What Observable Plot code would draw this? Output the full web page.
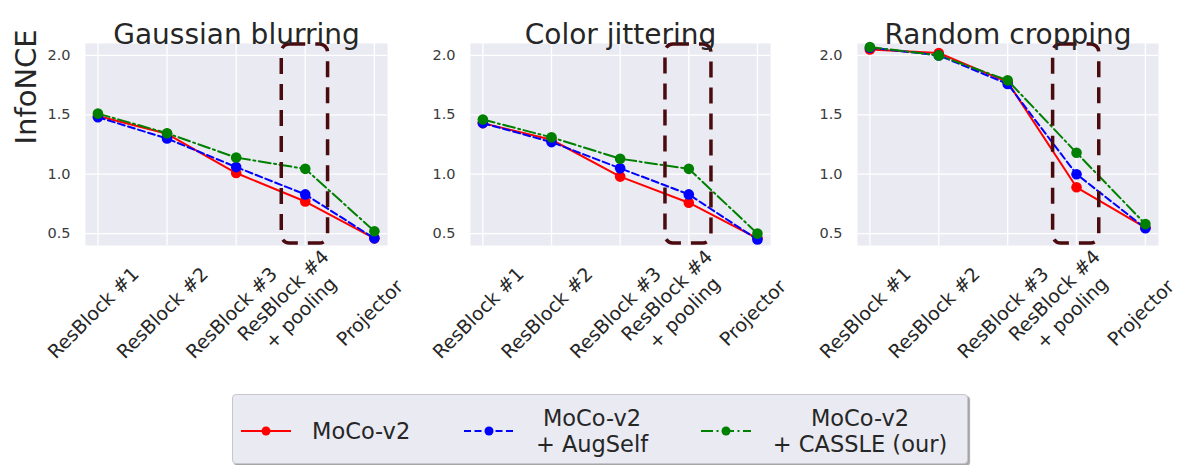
<!DOCTYPE html>
<html>
<head>
<meta charset="utf-8">
<script src="https://cdn.jsdelivr.net/npm/d3@7"></script>
<script src="https://cdn.jsdelivr.net/npm/@observablehq/plot@0.6"></script>
<style>
  html, body { margin: 0; padding: 0; background: #ffffff; }
  #root { position: relative; width: 1184px; height: 465px; overflow: hidden; font-family: "DejaVu Sans", sans-serif; }
  .panel { position: absolute; top: 0; }
  #legend {
    position: absolute; left: 232px; top: 394px; width: 734px; height: 68px;
    background: #eaeaf2; border: 1px solid #c6c6cc; border-radius: 4px;
    box-shadow: 2px 2px 1px rgba(0,0,0,0.35);
    font-family: "DejaVu Sans", sans-serif; font-size: 22.5px; color: #262626;
  }
  .lg-text { position: absolute; line-height: 26px; text-align: center; white-space: nowrap; }
  .lg-swatch { position: absolute; }
</style>
</head>
<body>
<div id="root">
  <div id="p0" class="panel" style="left:0px"></div>
  <div id="p1" class="panel" style="left:390px"></div>
  <div id="p2" class="panel" style="left:780px"></div>
  <div id="legend"></div>
</div>
<script>
// ---------- data ----------
const categories = ["ResBlock #1", "ResBlock #2", "ResBlock #3", "ResBlock #4\n+ pooling", "Projector"];
const panelTitles = ["Gaussian blurring", "Color jittering", "Random cropping"];
const seriesNames = ["MoCo-v2", "MoCo-v2\n+ AugSelf", "MoCo-v2\n+ CASSLE (our)"];
const seriesColors = ["#ff0000", "#0000ff", "#008000"];
const yTicks = [0.5, 1.0, 1.5, 2.0];
const highlightCategory = "ResBlock #4\n+ pooling";

const gaussianMoco    = [1.49, 1.34, 1.01, 0.77, 0.46];
const gaussianAugSelf = [1.48, 1.30, 1.06, 0.83, 0.46];
const gaussianCassle  = [1.51, 1.345, 1.14, 1.045, 0.52];

const colorMoco    = [1.43, 1.29, 0.98, 0.76, 0.46];
const colorAugSelf = [1.43, 1.27, 1.05, 0.83, 0.45];
const colorCassle  = [1.46, 1.31, 1.13, 1.045, 0.50];

const cropMoco    = [2.05, 2.02, 1.775, 0.89, 0.55];
const cropAugSelf = [2.065, 2.00, 1.76, 1.00, 0.545];
const cropCassle  = [2.07, 2.00, 1.79, 1.18, 0.58];

const panelValues = [
  [gaussianMoco, gaussianAugSelf, gaussianCassle],
  [colorMoco, colorAugSelf, colorCassle],
  [cropMoco, cropAugSelf, cropCassle]
];

// ---------- styles ----------
const dashes = [null, "7,3.5", "12,3.5,2,3.5"];
const xDomain = [-0.18, 4.19];
const yDomain = [0.40, 2.10];
const panelLayout = [
  {width: 395, marginLeft: 85, marginRight: 8},
  {width: 392, marginLeft: 80, marginRight: 12},
  {width: 404, marginLeft: 77, marginRight: 26}
];
const hi = categories.indexOf(highlightCategory);

function makePanel(p) {
  const L = panelLayout[p];
  const marks = [
    Plot.frame({fill: "#eaeaf2", stroke: "none"}),
    Plot.gridY(yTicks, {stroke: "#ffffff", strokeOpacity: 1, strokeWidth: 1.3}),
    Plot.gridX(categories.map((c, i) => i), {stroke: "#ffffff", strokeOpacity: 1, strokeWidth: 1.3}),
    Plot.axisY(yTicks, {tickSize: 0, tickPadding: 15, fontSize: 14.5, color: "#3a3a3a", label: null, tickFormat: d3.format(".1f")})
  ];
  panelValues[p].forEach((vals, s) => {
    const rows = vals.map((v, i) => ({i, v}));
    marks.push(Plot.line(rows, {x: "i", y: "v", stroke: seriesColors[s], strokeWidth: 2,
      strokeDasharray: dashes[s] || undefined}));
    marks.push(Plot.dot(rows, {x: "i", y: "v", fill: seriesColors[s], r: 5.3}));
  });
  // highlight box around ResBlock #4 + pooling
  marks.push(Plot.rect([hi], {x1: d => d - 0.34, x2: d => d + 0.33, y1: () => yDomain[0], y2: () => yDomain[1],
    fill: "none", stroke: "#4a0b0e", strokeWidth: 3.5, strokeDasharray: "16,10", rx: 8, insetTop: 1, insetBottom: 2}));
  // x tick labels
  marks.push(Plot.text(categories, {x: (d, i) => i, text: d => d, frameAnchor: "bottom", dy: 72,
    rotate: -45, fontSize: 19, fill: "#262626", lineHeight: 1.3}));
  // title
  marks.push(Plot.text([panelTitles[p]], {text: d => d, frameAnchor: "top", dy: -19, fontSize: 28, fill: "#262626"}));
  if (p === 0) {
    marks.push(Plot.text(["InfoNCE"], {text: d => d, frameAnchor: "left", dx: -59, rotate: -90, fontSize: 29, fill: "#262626"}));
  }
  return Plot.plot({
    width: L.width, height: 380,
    marginLeft: L.marginLeft, marginRight: L.marginRight, marginTop: 43, marginBottom: 135,
    x: {type: "linear", domain: xDomain, axis: null},
    y: {domain: yDomain, axis: null},
    style: {fontFamily: "DejaVu Sans", background: "transparent", overflow: "visible"},
    marks
  });
}

for (let p = 0; p < 3; p++) document.getElementById("p" + p).appendChild(makePanel(p));

// ---------- legend ----------
const legend = document.getElementById("legend");
const legendLayout = [
  {swX: 8, textLeft: 79, center: false},
  {swX: 231, textCenter: 359, center: true},
  {swX: 468, textCenter: 627, center: true}
];
seriesNames.forEach((name, s) => {
  const L = legendLayout[s];
  const sw = d3.create("svg").attr("class", "lg-swatch").attr("width", 52).attr("height", 14)
    .style("left", L.swX + "px").style("top", (36 - 7) + "px");
  sw.append("line").attr("x1", 0).attr("x2", 50).attr("y1", 7).attr("y2", 7)
    .attr("stroke", seriesColors[s]).attr("stroke-width", 2)
    .attr("stroke-dasharray", dashes[s] || null);
  sw.append("circle").attr("cx", 25).attr("cy", 7).attr("r", 4.5).attr("fill", seriesColors[s]);
  legend.appendChild(sw.node());
  const t = document.createElement("div");
  t.className = "lg-text";
  const lines = name.split("\n");
  t.innerHTML = lines.map(l => l.replace(/&/g, "&amp;").replace(/</g, "&lt;")).join("<br>");
  const h = lines.length * 26;
  t.style.top = (36 - h / 2) + "px";
  if (L.center) { t.style.left = L.textCenter + "px"; t.style.transform = "translateX(-50%)"; }
  else { t.style.left = L.textLeft + "px"; }
  legend.appendChild(t);
});
</script>
</body>
</html>
